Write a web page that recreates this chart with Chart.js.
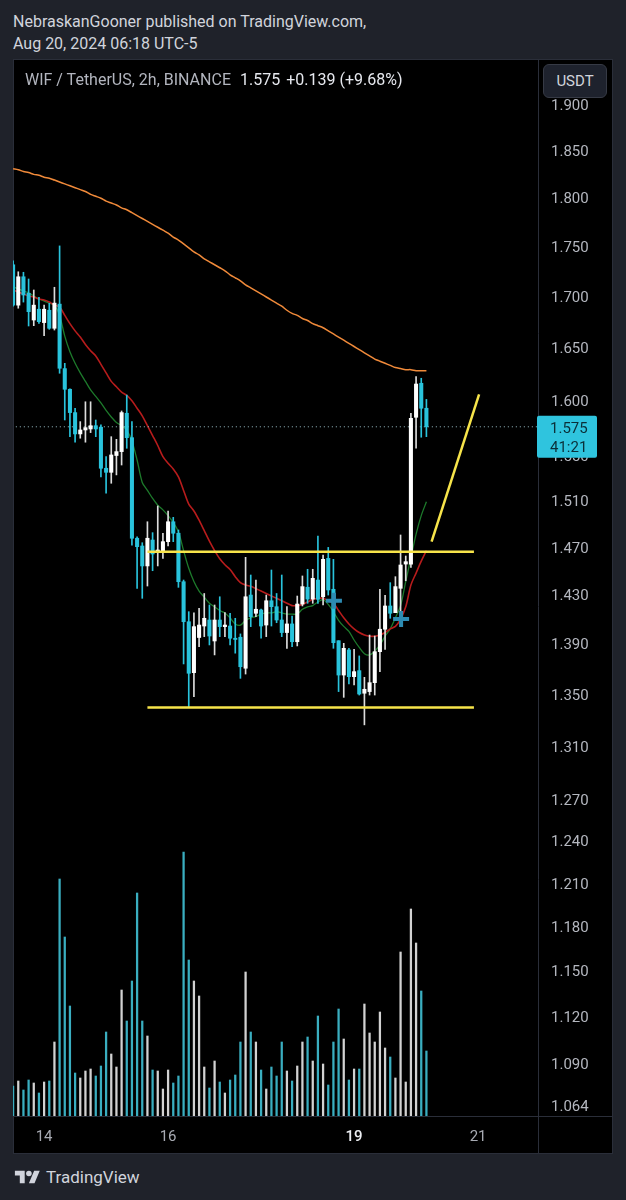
<!DOCTYPE html>
<html><head><meta charset="utf-8">
<script src="https://cdn.jsdelivr.net/npm/chart.js@4.4.1/dist/chart.umd.min.js"></script>
<style>
html,body{margin:0;padding:0;background:#1f222a;width:626px;height:1200px;overflow:hidden;font-family:Roboto,'Noto Sans',sans-serif;}
#title{position:absolute;left:13px;top:11px;color:#d1d4dc;font-size:16px;line-height:22px;white-space:nowrap;}
#panel{position:absolute;left:13px;top:59px;width:600px;height:1095px;background:#000;border:1px solid #2a2e39;box-sizing:border-box;}
#c{position:absolute;left:13px;top:60px;z-index:1;}
#hdr{position:absolute;left:25px;top:70px;z-index:2;font-size:16px;line-height:20px;color:#b2b5be;white-space:nowrap;}
#hdr .v{color:#e6e8ee;margin-left:6px;}
#usdt{position:absolute;left:543px;top:64px;width:64px;height:34px;box-sizing:border-box;border:1px solid #363a45;border-radius:6px;background:#1e222d;color:#d1d4dc;font-size:15px;line-height:32px;text-align:center;z-index:2;}
#foot{position:absolute;left:14px;top:1167px;display:flex;align-items:center;color:#d1d4dc;font-size:17px;}
#foot svg{margin-right:5px;}
</style></head>
<body>
<div id="title">NebraskanGooner published on TradingView.com,<br>Aug 20, 2024 06:18 UTC-5</div>
<div id="panel"></div>
<canvas id="c" width="599" height="1093"></canvas>
<div id="hdr"></div>
<div id="usdt">USDT</div>
<div id="foot"><svg width="27" height="14" viewBox="0 0 36 20"><path d="M14 19H7V8H0V1h14v18zM28 19h-8L27.5 1h8L28 19z" fill="#d1d4dc"/><circle cx="20" cy="5" r="4" fill="#d1d4dc"/></svg><span>TradingView</span></div>
<script>
// ---- data ----
const symbolLabel = 'WIF / TetherUS, 2h, BINANCE';
const changeAbs = '+0.139';
const changePct = '(+9.68%)';
const countdown = '41:21';
const xTickPos = [6, 30, 66, 90];
const xTickLabels = ['14', '16', '19', '21'];
const yTicks = [1.900,1.850,1.800,1.750,1.700,1.650,1.600,1.550,1.510,1.470,1.430,1.390,1.350,1.310,1.270,1.240,1.210,1.180,1.150,1.120,1.090,1.064];

const opens  = [1.730,1.690,1.718,1.7017,1.6755,1.686,1.673,1.685,1.6675,1.691,
                1.629,1.6096,1.588,1.5685,1.5721,1.573,1.576,1.5746,1.5376,1.534,
                1.549,1.5525,1.5874,1.5651,1.4765,1.4699,1.453,1.475,1.4642,1.4659,
                1.4736,1.4907,1.4808,1.4398,1.4068,1.3659,1.394,1.4033,1.4082,1.3912,
                1.4082,1.4028,1.4033,1.3934,1.3942,1.3694,1.4287,1.4137,1.4164,1.4041,
                1.424,1.4191,1.4082,1.398,1.405,1.3906,1.4213,1.4352,1.4254,1.4412,
                1.4273,1.4594,1.4335,1.3914,1.364,1.384,1.3627,1.3675,1.3497,1.351,
                1.358,1.3826,1.4007,1.4197,1.4142,1.4343,1.4546,1.4546,1.5837,1.6152,
                1.592];
const highs  = [1.734,1.723,1.7225,1.7158,1.7049,1.6977,1.690,1.6918,1.7076,1.749,
                1.634,1.610,1.592,1.5797,1.598,1.598,1.5812,1.5767,1.548,1.566,
                1.5636,1.5895,1.6042,1.5797,1.4778,1.4727,1.4907,1.4813,1.5044,1.4808,
                1.500,1.4945,1.4836,1.4412,1.415,1.414,1.4178,1.430,1.4205,1.4205,
                1.4273,1.4142,1.4137,1.4096,1.3969,1.4603,1.4454,1.4412,1.4172,1.4287,
                1.4496,1.430,1.4454,1.4191,1.4115,1.4279,1.4446,1.4502,1.4502,1.4784,
                1.4622,1.4687,1.4586,1.3914,1.3893,1.3853,1.3845,1.3792,1.3622,1.396,
                1.3952,1.4335,1.4285,1.439,1.444,1.4793,1.4614,1.5874,1.6214,1.6199,
                1.6002];
const lows   = [1.689,1.687,1.693,1.6697,1.670,1.6723,1.6603,1.6665,1.6658,1.6246,
                1.5812,1.566,1.561,1.5646,1.561,1.5697,1.566,1.530,1.5155,1.5243,
                1.5317,1.5405,1.5555,1.4707,1.4343,1.426,1.4362,1.449,1.453,1.4594,
                1.4699,1.4736,1.4351,1.3728,1.3392,1.347,1.3866,1.3947,1.388,1.380,
                1.3947,1.3947,1.388,1.3814,1.3614,1.3648,1.4028,1.4109,1.3934,1.3947,
                1.4033,1.406,1.3947,1.3853,1.3866,1.3872,1.4197,1.4219,1.4219,1.4219,
                1.4205,1.4287,1.3853,1.351,1.3465,1.357,1.3562,1.3483,1.3252,1.3483,
                1.3483,1.3667,1.3845,1.4096,1.4142,1.4096,1.4406,1.4518,1.5555,1.5655,
                1.566];
const closes = [1.690,1.718,1.700,1.6836,1.690,1.6739,1.686,1.6675,1.692,1.6293,
                1.6096,1.588,1.5685,1.5721,1.5742,1.576,1.573,1.5376,1.534,1.5495,
                1.5525,1.588,1.5651,1.4765,1.4693,1.453,1.4765,1.4631,1.4665,1.4736,
                1.4907,1.4808,1.4398,1.4068,1.3654,1.4028,1.4041,1.4096,1.3952,1.4082,
                1.4028,1.4041,1.3934,1.3924,1.3706,1.4273,1.4109,1.417,1.4033,1.424,
                1.4191,1.4082,1.398,1.405,1.3906,1.4213,1.4357,1.4254,1.4426,1.4252,
                1.4586,1.4329,1.3898,1.364,1.3853,1.3627,1.3667,1.3491,1.3528,1.358,
                1.3826,1.4007,1.4197,1.4137,1.4357,1.4538,1.4566,1.5828,1.6145,1.592,
                1.575];
const volumes = [3.0,3.5,2.6,3.6,3.3,2.3,3.4,3.5,7.4,23.7,
                 17.9,11.0,4.3,3.8,4.5,4.7,4.0,5.0,8.4,6.2,
                 4.9,12.6,9.5,13.5,22.3,9.5,8.0,4.6,4.5,2.7,
                 4.6,3.3,4.0,26.4,15.6,13.5,12.0,4.9,2.8,5.5,
                 3.4,2.3,3.6,4.1,7.4,14.4,8.4,7.4,4.6,2.7,
                 4.9,4.0,7.4,4.5,3.5,5.0,7.4,7.9,5.5,10.0,
                 5.2,3.1,7.4,10.7,7.7,3.6,4.7,4.7,11.2,8.3,
                 7.4,10.4,6.8,5.9,3.8,16.4,3.4,20.7,17.3,12.5,
                 6.5];
const maLong  = [1.829,1.828,1.826,1.825,1.823,1.822,1.820,1.819,1.817,1.815,
                 1.813,1.811,1.809,1.807,1.805,1.802,1.800,1.798,1.795,1.793,
                 1.791,1.788,1.786,1.783,1.780,1.777,1.774,1.771,1.768,1.765,
                 1.762,1.758,1.755,1.751,1.747,1.743,1.740,1.736,1.733,1.730,
                 1.727,1.724,1.720,1.717,1.714,1.710,1.707,1.704,1.701,1.698,
                 1.695,1.692,1.689,1.685,1.682,1.680,1.677,1.675,1.672,1.670,
                 1.668,1.665,1.662,1.659,1.656,1.653,1.650,1.647,1.644,1.641,
                 1.638,1.636,1.634,1.632,1.630,1.629,1.628,1.628,1.627,1.627,
                 1.627];
const maRed   = [1.705,1.703,1.701,1.699,1.698,1.696,1.695,1.693,1.690,1.688,
                 1.680,1.672,1.665,1.659,1.652,1.646,1.641,1.633,1.625,1.617,
                 1.612,1.607,1.604,1.599,1.592,1.585,1.576,1.567,1.558,1.548,
                 1.542,1.537,1.530,1.518,1.506,1.500,1.492,1.483,1.474,1.466,
                 1.459,1.454,1.450,1.444,1.439,1.437,1.436,1.434,1.432,1.430,
                 1.428,1.426,1.424,1.422,1.420,1.420,1.421,1.423,1.425,1.426,
                 1.426,1.424,1.422,1.416,1.410,1.405,1.401,1.398,1.396,1.395,
                 1.395,1.396,1.398,1.401,1.403,1.409,1.419,1.437,1.447,1.457,
                 1.466];
const maGreen = [1.708,1.706,1.704,1.702,1.699,1.696,1.694,1.692,1.690,1.680,
                 1.660,1.645,1.634,1.625,1.617,1.609,1.603,1.597,1.590,1.584,
                 1.579,1.576,1.572,1.562,1.545,1.525,1.518,1.511,1.505,1.501,
                 1.496,1.490,1.482,1.466,1.451,1.440,1.432,1.427,1.422,1.419,
                 1.416,1.414,1.410,1.405,1.404,1.408,1.410,1.411,1.413,1.414,
                 1.414,1.415,1.414,1.413,1.413,1.413,1.417,1.419,1.420,1.423,
                 1.425,1.421,1.415,1.408,1.403,1.399,1.392,1.386,1.381,1.380,
                 1.383,1.388,1.395,1.401,1.410,1.420,1.440,1.460,1.480,1.496,
                 1.508];
const resistanceLevel = 1.465;
const supportLevel = 1.3386;
const levelX = [26.0, 89.2];
const trendX = [81.0, 90.2];
const trendY = [1.4736, 1.6049];
const crossX = [62.1, 75.1];
const crossY = [1.424, 1.409];

// ---- view range ----
const xMin = -0.02, xMax = 101.6;
const yMin = 1.0565, yMax = 1.9479;
const volMax = 105.6;

const UP = '#ffffff', DOWN = '#29c3dc';
const idx = closes.map((_, i) => i);
const isUp = idx.map(i => closes[i] >= opens[i]);
const last = closes[closes.length - 1];

document.getElementById('hdr').innerHTML = symbolLabel + '<span class="v" style="margin-left:9px">' + last.toFixed(3) + '</span><span class="v">' + changeAbs + ' ' + changePct + '</span>';

const frame = {
  id: 'frame',
  afterDraw(chart) {
    const {ctx, chartArea: a, scales} = chart;
    ctx.save();
    ctx.strokeStyle = '#2a2e39';
    ctx.lineWidth = 1;
    ctx.beginPath();
    const rx = Math.round(a.right) + 0.5, by = Math.round(a.bottom) + 0.5;
    ctx.moveTo(rx, 0); ctx.lineTo(rx, chart.height);
    ctx.moveTo(0, by); ctx.lineTo(chart.width, by);
    ctx.stroke();
    const y = scales.y.getPixelForValue(last);
    ctx.fillStyle = '#2fc4de';
    ctx.beginPath();
    ctx.roundRect(a.right - 1, y - 11, 60, 42, 2);
    ctx.fill();
    ctx.fillStyle = '#0b2f38';
    ctx.font = '15px Roboto';
    ctx.textBaseline = 'middle';
    ctx.textAlign = 'left';
    ctx.fillText(last.toFixed(3), a.right + 12, y + 2);
    ctx.fillText(countdown, a.right + 12, y + 21);
    ctx.restore();
  }
};

const noPad = s => { s.paddingTop = 0; s.paddingBottom = 0; s.paddingLeft = 0; s.paddingRight = 0; };

const lineDs = (data, color, width, order) => ({
  type: 'line', data, borderColor: color, borderWidth: width, pointRadius: 0,
  tension: 0.3, xAxisID: 'x', yAxisID: 'y', order
});

new Chart(document.getElementById('c'), {
  type: 'bar',
  data: {
    datasets: [
      { type: 'bar', xAxisID: 'x', yAxisID: 'yv', order: 10, grouped: false, barThickness: 1.6,
        data: idx.map(i => ({x: i, y: volumes[i]})),
        backgroundColor: idx.map(i => isUp[i] ? '#d2d2d2' : '#3aaec0') },
      lineDs(idx.map(i => ({x: i, y: maLong[i]})), '#f08a3a', 1.5, 6),
      lineDs(idx.map(i => ({x: i, y: maRed[i]})), '#b71c1c', 1.6, 6),
      lineDs(idx.map(i => ({x: i, y: maGreen[i]})), '#1d7a2b', 1.3, 6),
      Object.assign(lineDs([{x: xMin - 1, y: last}, {x: xMax + 1, y: last}], '#9cc0c9', 1, 5), {borderDash: [1, 3], tension: 0}),
      { type: 'bar', xAxisID: 'x', yAxisID: 'y', order: 3, grouped: false, barThickness: 1,
        data: idx.map(i => ({x: i, y: [lows[i], highs[i]]})),
        backgroundColor: idx.map(i => isUp[i] ? '#dcdcdc' : DOWN) },
      { type: 'bar', xAxisID: 'x', yAxisID: 'y', order: 2, grouped: false, barThickness: 3.4, minBarLength: 1,
        data: idx.map(i => ({x: i, y: [opens[i], closes[i]]})),
        backgroundColor: idx.map(i => isUp[i] ? UP : DOWN) },
      Object.assign(lineDs(levelX.map(x => ({x, y: resistanceLevel})), '#f7e44a', 2.5, 1), {tension: 0}),
      Object.assign(lineDs(levelX.map(x => ({x, y: supportLevel})), '#f7e44a', 2.5, 1), {tension: 0}),
      Object.assign(lineDs(trendX.map((x, k) => ({x, y: trendY[k]})), '#f7e44a', 2.5, 1), {tension: 0}),
      { type: 'line', xAxisID: 'x', yAxisID: 'y', order: 0, showLine: false,
        data: crossX.map((x, k) => ({x, y: crossY[k]})),
        pointStyle: 'cross', pointRadius: 8, pointBorderWidth: 4,
        pointBorderColor: '#2d8bb2', pointBackgroundColor: '#2d8bb2' }
    ]
  },
  options: {
    responsive: false, animation: false, events: [],
    layout: { padding: 0, autoPadding: false },
    plugins: { legend: { display: false }, tooltip: { enabled: false } },
    scales: {
      x: {
        type: 'linear', position: 'bottom', min: xMin, max: xMax, offset: false,
        grid: { display: false, drawTicks: false }, border: { display: false },
        afterBuildTicks: s => { s.ticks = xTickPos.map(v => ({value: v})); },
        afterFit: s => { s.height = 37; noPad(s); },
        ticks: {
          autoSkip: false, maxRotation: 0, padding: 12,
          callback: (v, i) => xTickLabels[i],
          color: ctx => (xTickLabels[ctx.index] === '19' ? '#eceef2' : '#a8abb3'),
          font: ctx => ({ family: 'Roboto', size: 15, weight: xTickLabels[ctx.index] === '19' ? '500' : '400' })
        }
      },
      y: {
        type: 'logarithmic', position: 'right', min: yMin, max: yMax, bounds: 'data', beginAtZero: false,
        grid: { display: false, drawTicks: false }, border: { display: false },
        afterBuildTicks: s => { s.ticks = yTicks.map(v => ({value: v})); },
        afterFit: s => { s.width = 74; noPad(s); },
        ticks: {
          autoSkip: false, padding: 13, labelOffset: 3, color: '#b4b7bf',
          font: { family: 'Roboto', size: 15 },
          callback: v => Number(v).toFixed(3)
        }
      },
      yv: { type: 'linear', display: false, min: 0, max: volMax }
    }
  },
  plugins: [frame]
});
</script>
</body></html>
